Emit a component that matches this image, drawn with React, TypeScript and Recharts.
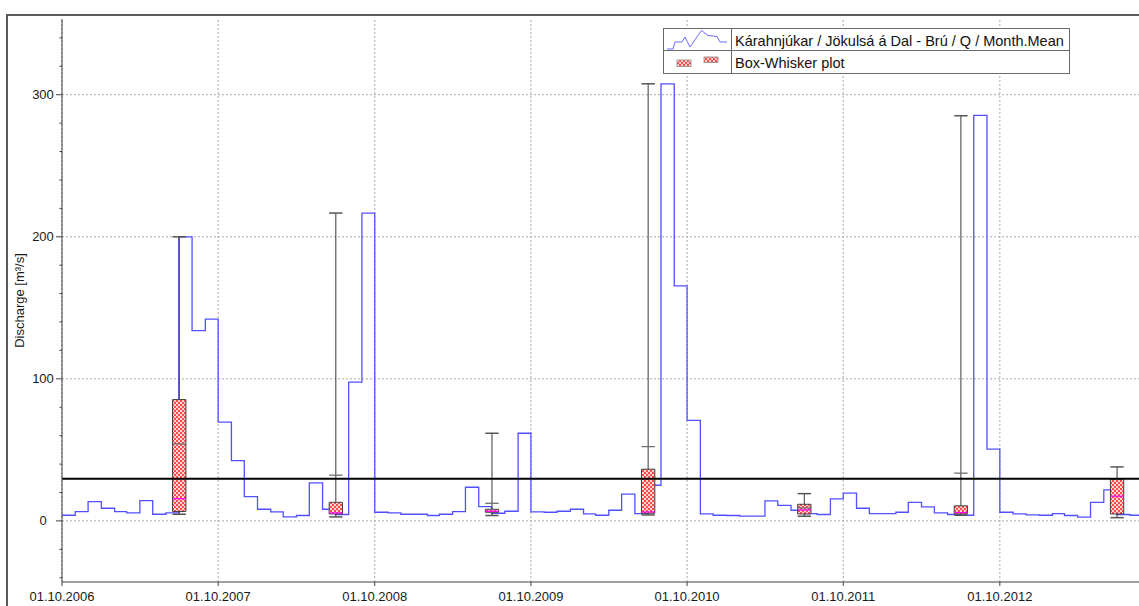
import React from 'react';
import { ComposedChart, Line, XAxis, YAxis, ReferenceLine, ReferenceArea, Label } from 'recharts';

const FONT = '"Liberation Sans", Arial, sans-serif';
const DAY = 24 * 3600 * 1000;

// Monthly mean discharge [m³/s], first series month is October 2006
const flow2006 = [4.0, 6.6, 13.6];
const flow2007 = [8.9, 6.6, 5.6, 14.3, 4.7, 5.6, 200, 134, 142, 69.5, 42.5, 17.1];
const flow2008 = [8.2, 6.3, 2.8, 3.8, 26.8, 8.2, 4.5, 97.7, 216.7, 6.1, 5.6, 4.7];
const flow2009 = [4.7, 3.8, 4.7, 6.6, 23.7, 10.1, 5.4, 6.8, 61.7, 6.3, 6.1, 6.8];
const flow2010 = [8.2, 4.9, 4.0, 7.5, 18.8, 5.2, 25.1, 307.7, 165.5, 70.7, 4.9, 4.0];
const flow2011 = [3.8, 3.3, 3.3, 14.1, 11.0, 7.5, 5.2, 4.5, 15.5, 19.5, 8.9, 5.2];
const flow2012 = [5.2, 6.1, 13.1, 9.9, 5.6, 4.5, 4.0, 285.5, 50.5, 6.1, 4.9, 4.2];
const flow2013 = [4.0, 5.2, 3.8, 2.6, 13.1, 21.8, 4.5, 4.0, 4.0];

// Yearly box-whisker statistics (calendar years)
const boxYears = [2007, 2008, 2009, 2010, 2011, 2012, 2013];
const boxMin = [4.7, 2.8, 3.8, 4.2, 3.3, 4.0, 2.3];
const boxQ1 = [6.6, 4.9, 6.1, 5.4, 4.9, 4.9, 4.9];
const boxMedian = [15.7, 5.6, 6.8, 6.3, 7.7, 5.9, 17.4];
const boxQ3 = [85.4, 13.1, 8.2, 36.4, 11.7, 10.6, 29.4];
const boxMax = [200, 216.7, 61.7, 307.7, 19.2, 285.2, 38.0];
const boxMean = [54.2, 32.2, 12.4, 52.3, 9.2, 33.6, 29.4];

// Horizontal level line
const levelQ = 29.6;

const tickYears = [2006, 2007, 2008, 2009, 2010, 2011, 2012];
const yearTicks = tickYears.map((y) => Date.UTC(y, 9, 1));
const X_DOMAIN: [number, number] = [Date.UTC(2006, 9, 1), Date.UTC(2013, 9, 1)];
const yMajor = [0, 100, 200, 300];
const Y_DOMAIN: [number, number] = [-43, 353.3];
const yTicks: number[] = [];
for (let v = -40; v <= 340; v += 20) yTicks.push(v);

const flowData = [...flow2006, ...flow2007, ...flow2008, ...flow2009, ...flow2010, ...flow2011, ...flow2012, ...flow2013].map(
  (q, i) => ({ t: Date.UTC(2006, 9 + i, 1), q })
);

const boxData = boxYears.map((year, i) => ({
  t: Date.UTC(year, 6, 2),
  min: boxMin[i],
  q1: boxQ1[i],
  median: boxMedian[i],
  q3: boxQ3[i],
  max: boxMax[i],
  mean: boxMean[i],
}));
const BOX_HALF = 15.6 * DAY;

const GRID = { stroke: '#a8a8a8', strokeDasharray: '2 2', strokeWidth: 1 };

const YTick = ({ x, y, payload }: any) => {
  const major = payload.value % 100 === 0;
  return (
    <g>
      <line x1={x - (major ? 6 : 2.5)} x2={x} y1={y} y2={y} stroke="#404040" />
      {major && (
        <text x={x - 19} y={y} dy={4.5} textAnchor="middle" fontSize={13} fontFamily={FONT} fill="#1a1a1a">
          {payload.value}
        </text>
      )}
    </g>
  );
};

const HatchPattern = ({ id }: { id: string }) => (
  <pattern id={id} width={4} height={4} patternUnits="userSpaceOnUse">
    <rect width={4} height={4} fill="#ffd4d4" />
    <rect width={2} height={2} fill="#ff4a4a" />
    <rect x={2} y={2} width={2} height={2} fill="#ff4a4a" />
  </pattern>
);

const LegendBox = () => (
  <svg width={410} height={48} style={{ position: 'absolute', left: 663, top: 28 }}>
    <defs>
      <HatchPattern id="legendHatch" />
    </defs>
    <rect x={0.5} y={0.5} width={406} height={45} fill="#fff" stroke="#6a6a6a" />
    <line x1={0.5} x2={406.5} y1={22.5} y2={22.5} stroke="#6a6a6a" />
    <line x1={68.5} x2={68.5} y1={0.5} y2={45.5} stroke="#6a6a6a" />
    <polyline
      points="4,21 10,21 12,14 19,14 22,9 27,19 38.5,2.5 45,7.5 54,8.5 57,14 64,14"
      fill="none"
      stroke="#6a6aff"
      strokeWidth={1}
    />
    <rect x={14} y={32} width={14} height={6.5} fill="url(#legendHatch)" stroke="#8a8a8a" strokeWidth={0.8} />
    <rect x={41} y={29} width={14} height={5.5} fill="url(#legendHatch)" stroke="#8a8a8a" strokeWidth={0.8} />
    <text x={72} y={18} fontSize={14.5} fontFamily={FONT} fill="#111">
      Kárahnjúkar / Jökulsá á Dal - Brú / Q / Month.Mean
    </text>
    <text x={72} y={40} fontSize={14.5} fontFamily={FONT} fill="#111">
      Box-Whisker plot
    </text>
  </svg>
);

export default function App() {
  return (
    <div
      style={{
        position: 'absolute',
        left: 0,
        top: 0,
        width: 1139,
        height: 606,
        overflow: 'hidden',
        background: '#fff',
        fontFamily: FONT,
      }}
    >
      {/* outer panel frame */}
      <div
        style={{
          position: 'absolute',
          left: 6,
          top: 14,
          width: 1400,
          height: 800,
          borderLeft: '2px solid #5a5a5a',
          borderTop: '2px solid #5a5a5a',
        }}
      />
      <div style={{ position: 'absolute', left: 0, top: 0 }}>
        <ComposedChart width={1160} height={606} margin={{ top: 19, right: 4, bottom: 0, left: 0 }}>
          <defs>
            <HatchPattern id="boxHatch" />
          </defs>
          <XAxis
            dataKey="t"
            type="number"
            domain={X_DOMAIN}
            allowDataOverflow
            ticks={yearTicks}
            interval={0}
            height={24}
            tickSize={4}
            tickMargin={6}
            stroke="#404040"
            tick={{ fontSize: 13, fontFamily: FONT, fill: '#1a1a1a' }}
            tickFormatter={(v: number) => `01.10.${new Date(v).getUTCFullYear()}`}
          />
          <XAxis
            xAxisId="top"
            orientation="top"
            dataKey="t"
            type="number"
            domain={X_DOMAIN}
            allowDataOverflow
            height={0}
            tick={false}
            tickLine={false}
            stroke="#404040"
            strokeWidth={1.5}
          />
          <YAxis
            type="number"
            domain={Y_DOMAIN}
            allowDataOverflow
            ticks={yTicks}
            interval={0}
            width={62}
            tickSize={0}
            tickMargin={0}
            tickLine={false}
            stroke="#404040"
            tick={<YTick />}
          >
            <Label
              content={({ viewBox }: any) => {
                const cy = viewBox.y + viewBox.height / 2;
                return (
                  <text
                    x={23.5}
                    y={cy}
                    transform={`rotate(-90 23.5 ${cy})`}
                    textAnchor="middle"
                    fontSize={13}
                    fontFamily={FONT}
                    fill="#1a1a1a"
                  >
                    Discharge [m³/s]
                  </text>
                );
              }}
            />
          </YAxis>

          {yearTicks.map((t) => (
            <ReferenceLine key={`gx${t}`} x={t} {...GRID} zIndex={-100} />
          ))}
          {yMajor.map((v) => (
            <ReferenceLine key={`gy${v}`} y={v} {...GRID} zIndex={-100} />
          ))}

          <Line
            data={flowData}
            dataKey="q"
            type="stepAfter"
            stroke="#5050ff"
            strokeWidth={1.3}
            dot={false}
            activeDot={false}
            isAnimationActive={false}
            zIndex={400}
          />

          {boxData.flatMap((b) => [
            <ReferenceLine
              key={`w${b.t}`}
              segment={[{ x: b.t, y: b.min }, { x: b.t, y: b.max }]}
              stroke="#3a3a3a"
              zIndex={450}
            />,
            <ReferenceLine
              key={`cmin${b.t}`}
              segment={[{ x: b.t - BOX_HALF, y: b.min }, { x: b.t + BOX_HALF, y: b.min }]}
              stroke="#555"
              strokeWidth={1.5}
              zIndex={450}
            />,
            <ReferenceLine
              key={`cmax${b.t}`}
              segment={[{ x: b.t - BOX_HALF, y: b.max }, { x: b.t + BOX_HALF, y: b.max }]}
              stroke="#555"
              strokeWidth={1.5}
              zIndex={450}
            />,
          ])}

          {boxData.map((b) => (
            <ReferenceArea
              key={`box${b.t}`}
              x1={b.t - BOX_HALF}
              x2={b.t + BOX_HALF}
              y1={b.q1}
              y2={b.q3}
              fill="url(#boxHatch)"
              fillOpacity={1}
              stroke="#404040"
              strokeWidth={1}
              zIndex={460}
            />
          ))}

          {boxData.flatMap((b) => [
            <ReferenceLine
              key={`mean${b.t}`}
              segment={[{ x: b.t - BOX_HALF, y: b.mean }, { x: b.t + BOX_HALF, y: b.mean }]}
              stroke="#707070"
              strokeWidth={1.3}
              zIndex={470}
            />,
            <ReferenceLine
              key={`med${b.t}`}
              segment={[{ x: b.t - BOX_HALF, y: b.median }, { x: b.t + BOX_HALF, y: b.median }]}
              stroke="#ff00ff"
              strokeWidth={1.2}
              zIndex={470}
            />,
          ])}

          <ReferenceLine y={levelQ} stroke="#000" strokeWidth={2} zIndex={480} />
        </ComposedChart>
      </div>
      <LegendBox />
    </div>
  );
}
